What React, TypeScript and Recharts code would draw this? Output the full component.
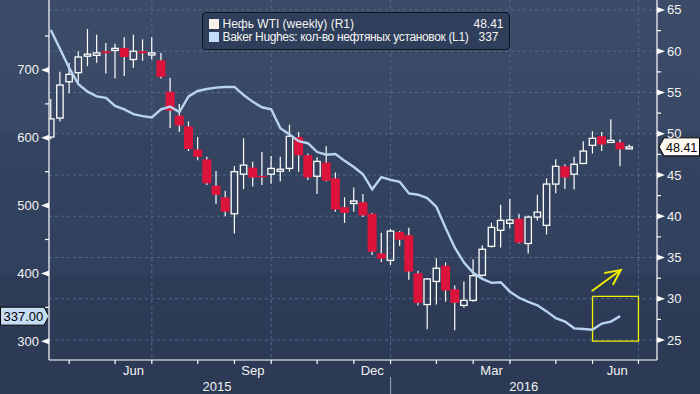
import React from 'react';
import { ComposedChart, Bar, Line, XAxis, YAxis, CartesianGrid, ReferenceLine, ReferenceArea } from 'recharts';

// WTI weekly candles, week 1 = first week of April 2015
const open = [
  49.6, 51.9, 56.3, 57.4, 59.4, 59.5, 60.0, 60.1, 60.4, 59.0,
  60.0, 59.55, 58.9, 55.1, 52.2, 50.9, 48.1, 46.9, 43.7, 42.3,
  40.3, 45.1, 45.9, 44.9, 45.1, 45.45, 45.8, 49.6, 47.4, 44.85,
  46.5, 44.6, 41.1, 41.55, 41.7, 40.3, 35.5, 34.65, 38.1, 37.7,
  33.1, 29.3, 32.1, 34.0, 31.15, 29.2, 29.8, 32.85, 36.35, 38.3,
  39.15, 39.7, 36.7, 39.9, 38.9, 43.9, 46.05, 45.1, 46.4, 48.6,
  49.7, 48.95, 48.95, 48.3,
];
const high = [
  54.2, 57.5, 58.6, 60.0, 62.7, 62.0, 61.0, 60.9, 61.7, 62.0,
  61.45, 61.7, 59.8, 56.8, 53.6, 51.5, 49.6, 47.2, 45.5, 43.1,
  46.1, 49.45, 46.6, 47.8, 47.3, 47.2, 51.1, 50.2, 47.6, 47.15,
  48.5, 45.3, 42.3, 43.5, 42.7, 40.4, 38.0, 38.45, 38.2, 38.6,
  33.4, 32.5, 34.9, 34.4, 31.6, 32.1, 34.8, 36.5, 39.2, 41.4,
  42.1, 40.3, 40.1, 42.6, 44.6, 46.9, 46.3, 47.2, 49.1, 50.3,
  50.2, 51.75, 49.3, 48.7,
];
const low = [
  49.3, 51.5, 54.9, 56.3, 58.2, 58.6, 57.3, 56.7, 57.0, 58.0,
  58.85, 59.0, 56.7, 50.7, 50.25, 47.9, 46.8, 43.8, 41.5, 40.0,
  37.9, 43.3, 43.6, 43.8, 43.95, 44.2, 45.4, 45.4, 44.4, 42.7,
  44.2, 40.55, 39.2, 40.55, 39.9, 35.3, 34.45, 34.1, 36.4, 32.3,
  29.2, 26.3, 29.3, 29.65, 26.2, 28.9, 29.65, 32.7, 36.2, 36.2,
  38.55, 36.7, 35.5, 39.5, 37.8, 42.8, 43.3, 43.25, 46.3, 47.6,
  47.9, 48.9, 46.05, 48.3,
];
const close = [
  51.8, 55.9, 57.2, 59.3, 59.65, 59.8, 59.75, 60.35, 59.3, 60.0,
  59.75, 59.8, 56.9, 52.8, 51.0, 48.15, 47.2, 44.0, 42.6, 40.55,
  45.4, 46.2, 44.7, 44.8, 45.8, 45.7, 49.7, 47.4, 44.7, 46.65,
  44.3, 40.8, 40.4, 41.85, 40.1, 35.7, 34.85, 38.2, 37.15, 33.3,
  29.5, 32.4, 33.7, 31.0, 29.5, 29.8, 32.8, 36.0, 38.65, 39.5,
  39.55, 36.8, 39.9, 40.5, 43.9, 46.05, 44.7, 46.3, 47.9, 49.45,
  48.7, 49.2, 48.1, 48.41,
];

// Baker Hughes oil rig count, weeks 1..63
const rigs = [
  759, 731, 703, 679, 668, 661, 659, 647, 642, 635,
  632, 630, 642, 646, 638, 661, 669, 672, 674, 675,
  675, 663, 653, 645, 642, 614, 605, 595, 592, 579,
  575, 576, 566, 557, 546, 524, 542, 538, 535, 518,
  516, 511, 498, 467, 438, 416, 401, 392, 386, 387,
  373, 364, 358, 353, 344, 334, 329, 319, 318, 317,
  326, 329, 337,
];

// axis ticks, in week numbers
const monthStarts = [3, 8, 12, 17, 21, 25, 30, 34, 38, 43, 47, 51, 56, 60, 65];
const quarterStarts = [12, 25, 38, 51, 65];
const monthLabelPos = [10, 23, 36, 49, 62.7];
const monthLabelText = ['Jun', 'Sep', 'Dec', 'Mar', 'Jun'];
const yearLabelPos = [19.1, 52.5];
const yearLabelText = ['2015', '2016'];
const yearStart = 38;

const priceTicks = [25, 27.5, 30, 32.5, 35, 37.5, 40, 42.5, 45, 47.5, 50, 52.5, 55, 57.5, 60, 62.5, 65];
const priceGrid = [25, 30, 35, 40, 45, 50, 55, 60, 65];
const rigTicks = [300, 350, 400, 450, 500, 550, 600, 650, 700, 750];

const data = close.map((c, i) => ({
  wk: i + 1,
  open: open[i],
  high: high[i],
  low: low[i],
  close: c,
  rig: i < rigs.length ? rigs[i] : null,
}));

const lastRig = rigs[rigs.length - 1];
const lastClose = close[close.length - 1];

const FONT = '"Liberation Sans", Arial, sans-serif';
const RED = '#dc143c';
const RIG_BLUE = '#b8d4f1';
const YELLOW = '#f2ef00';
const GRID = '#4f6a8a';

function Candle(props: any) {
  const { x, y, width, height } = props;
  const p = props.payload ?? props;
  const h = p.high, l = p.low, o = p.open, c = p.close;
  const k = Math.abs(height) / (h - l);
  const py = (v: number) => y + (h - v) * k;
  const cx = x + width / 2;
  const top = py(Math.max(o, c));
  const bot = py(Math.min(o, c));
  const yHigh = py(h);
  const yLow = py(l);
  if (c >= o) {
    const bh = Math.max(bot - top, 2);
    return (
      <g>
        <line x1={cx} x2={cx} y1={yHigh} y2={top} stroke="#fff" strokeWidth={1.2} />
        <line x1={cx} x2={cx} y1={top + bh} y2={yLow} stroke="#fff" strokeWidth={1.2} />
        <rect x={cx - 3.2} y={top} width={6.4} height={bh} fill="none" stroke="#fff" strokeWidth={1.3} />
      </g>
    );
  }
  const bh = Math.max(bot - top, 1.5);
  return (
    <g>
      <line x1={cx} x2={cx} y1={yHigh} y2={yLow} stroke="#fff" strokeWidth={1.2} />
      <rect x={cx - 4.5} y={top} width={9} height={bh} fill={RED} />
    </g>
  );
}

function XTick(props: any) {
  const { x, y, payload } = props;
  const v = payload.value;
  const m = monthLabelPos.indexOf(v);
  if (m >= 0) {
    return (
      <text x={x} y={y + 15} textAnchor="middle" fill="#f2f2f2" fontSize={13} fontFamily={FONT}>
        {monthLabelText[m]}
      </text>
    );
  }
  const yr = yearLabelPos.indexOf(v);
  if (yr >= 0) {
    return (
      <text x={x} y={y + 31} textAnchor="middle" fill="#f2f2f2" fontSize={13} fontFamily={FONT}>
        {yearLabelText[yr]}
      </text>
    );
  }
  return (
    <g>
      <line x1={x} x2={x} y1={y} y2={y + 4} stroke="#fff" strokeWidth={1.2} />
      {v === yearStart && <line x1={x} x2={x} y1={y + 17} y2={y + 34} stroke="#8c97aa" strokeWidth={1.2} />}
    </g>
  );
}

function YTick(props: any) {
  const { x, y, payload, side } = props;
  const v = payload.value;
  const major = side === 'left' ? v % 100 === 0 : v % 5 === 0;
  const dir = side === 'left' ? -1 : 1;
  if (!major) {
    return <line x1={x} x2={x + dir * 4} y1={y} y2={y} stroke="#fff" strokeWidth={1.2} />;
  }
  return (
    <g>
      <polygon points={`${x},${y - 3} ${x},${y + 3} ${x + dir * 8},${y}`} fill="#fff" />
      <text
        x={x + dir * 10}
        y={y + 4.5}
        textAnchor={side === 'left' ? 'end' : 'start'}
        fill="#f2f2f2"
        fontSize={13}
        fontFamily={FONT}
      >
        {v}
      </text>
    </g>
  );
}

function RigTag(props: any) {
  const { viewBox } = props;
  const y = viewBox.y;
  const tip = viewBox.x;
  return (
    <g>
      <polygon
        points={`0.5,${y - 9} ${tip - 5},${y - 9} ${tip},${y} ${tip - 5},${y + 9} 0.5,${y + 9}`}
        fill="#c6ddf6"
        stroke="#000"
        strokeWidth={1}
      />
      <text x={3.5} y={y + 4.5} fill="#000" fontSize={13} fontFamily={FONT}>
        {lastRig.toFixed(2)}
      </text>
    </g>
  );
}

function PriceTag(props: any) {
  const { viewBox } = props;
  const y = viewBox.y;
  const tip = viewBox.x + viewBox.width + 2;
  return (
    <g>
      <polygon
        points={`${tip},${y} ${tip + 5},${y - 9} 699.5,${y - 9} 699.5,${y + 9} ${tip + 5},${y + 9}`}
        fill="#fffaf4"
        stroke="#000"
        strokeWidth={1}
      />
      <text x={tip + 7} y={y + 5} fill="#000" fontSize={12.5} fontFamily={FONT}>
        {lastClose.toFixed(2)}
      </text>
    </g>
  );
}

function Arrow(props: any) {
  const { x1, y1, x2, y2 } = props;
  const a = Math.atan2(y1 - y2, x1 - x2);
  const len = 16;
  const w1x = x2 + len * Math.cos(a + 0.45);
  const w1y = y2 + len * Math.sin(a + 0.45);
  const w2x = x2 + len * Math.cos(a - 0.45);
  const w2y = y2 + len * Math.sin(a - 0.45);
  return (
    <g stroke={YELLOW} strokeWidth={2} fill="none" strokeLinecap="round">
      <line x1={x1} y1={y1} x2={x2} y2={y2} />
      <polyline points={`${w1x},${w1y} ${x2},${y2} ${w2x},${w2y}`} />
    </g>
  );
}

export default function App() {
  return (
    <div
      style={{
        position: 'fixed',
        left: 0,
        top: 0,
        width: 700,
        height: 394,
        fontFamily: FONT,
        background:
          'linear-gradient(180deg, #3c4b67 0px, #394864 132px, #34435f 133px, #31405c 274px, #2e3c58 275px, #2b3955 394px)',
      }}
    >
      <ComposedChart width={700} height={394} data={data} margin={{ top: 0, right: 0, bottom: 0, left: 0 }}>
        <CartesianGrid
          yAxisId="right"
          horizontalValues={priceGrid}
          verticalValues={quarterStarts}
          stroke={GRID}
          strokeDasharray="3 3"
        />
        <XAxis
          dataKey="wk"
          type="number"
          domain={[0.8, 67.02]}
          allowDataOverflow
          ticks={[...monthStarts, ...monthLabelPos, ...yearLabelPos]}
          interval={0}
          tick={<XTick />}
          tickLine={false}
          tickSize={0}
          tickMargin={0}
          axisLine={{ stroke: '#fff', strokeWidth: 1.2 }}
          height={34}
        />
        <YAxis
          yAxisId="left"
          orientation="left"
          width={49}
          domain={[272.3, 803.2]}
          allowDataOverflow
          ticks={rigTicks}
          interval={0}
          tick={<YTick side="left" />}
          tickLine={false}
          tickSize={0}
          tickMargin={0}
          axisLine={{ stroke: '#fff', strokeWidth: 1.2 }}
        />
        <YAxis
          yAxisId="right"
          orientation="right"
          width={43}
          domain={[22.58, 66.21]}
          allowDataOverflow
          ticks={priceTicks}
          interval={0}
          tick={<YTick side="right" />}
          tickLine={false}
          tickSize={0}
          tickMargin={0}
          axisLine={{ stroke: '#fff', strokeWidth: 1.2 }}
        />
        <Bar
          yAxisId="right"
          dataKey={(d: any) => [d.low, d.high]}
          barSize={9}
          shape={(p: any) => <Candle {...p} />}
          isAnimationActive={false}
        />
        <Line
          yAxisId="left"
          dataKey="rig"
          stroke={RIG_BLUE}
          strokeWidth={2.4}
          dot={false}
          activeDot={false}
          isAnimationActive={false}
        />
        <ReferenceArea
          yAxisId="left"
          x1={60}
          x2={65}
          y1={300}
          y2={366}
          fill="none"
          stroke={YELLOW}
          strokeWidth={1.3}
          ifOverflow="visible"
        />
        <ReferenceLine
          yAxisId="right"
          segment={[{ x: 59.97, y: 30.98 }, { x: 63.07, y: 33.48 }]}
          stroke={YELLOW}
          shape={(p: any) => <Arrow {...p} />}
          ifOverflow="visible"
        />
        <ReferenceLine yAxisId="left" y={lastRig} stroke="none" label={<RigTag />} ifOverflow="visible" />
        <ReferenceLine yAxisId="right" y={lastClose} stroke="none" label={<PriceTag />} ifOverflow="visible" />
      </ComposedChart>
      <div
        style={{
          position: 'absolute',
          left: 201.5,
          top: 11.5,
          width: 306,
          height: 36,
          border: '1.5px solid #0e1521',
          borderRadius: 4,
          background: '#2f3e5a',
          color: '#f4f4f4',
          fontSize: 12,
          lineHeight: '13px',
          whiteSpace: 'nowrap',
        }}
      >
        <div style={{ position: 'absolute', left: 6, top: 6, width: 10, height: 10, background: '#f8eeec' }} />
        <div style={{ position: 'absolute', left: 20, top: 5 }}>Нефь WTI (weekly) (R1)</div>
        <div style={{ position: 'absolute', right: 5, top: 5 }}>{lastClose.toFixed(2)}</div>
        <div style={{ position: 'absolute', left: 6, top: 19, width: 10, height: 10, background: '#c3dcf7' }} />
        <div style={{ position: 'absolute', left: 20, top: 18, letterSpacing: '-0.35px' }}>
          Baker Hughes: кол-во нефтяных установок (L1)
        </div>
        <div style={{ position: 'absolute', left: 276, top: 18 }}>{lastRig}</div>
      </div>
    </div>
  );
}
